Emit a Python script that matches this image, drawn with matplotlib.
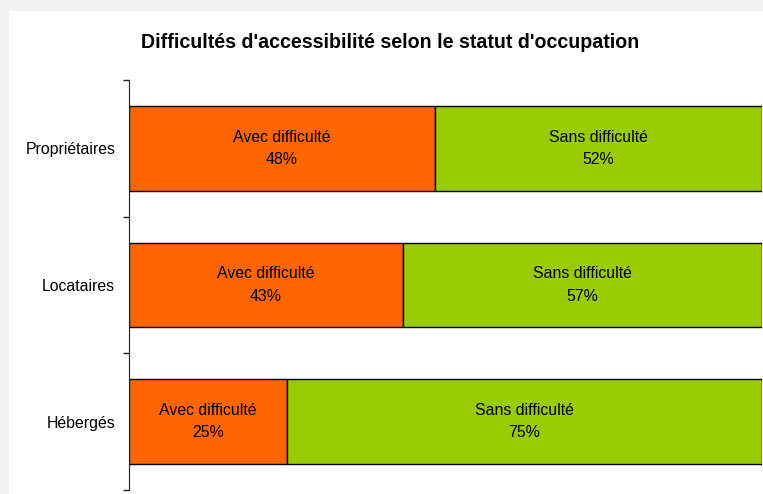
import matplotlib.pyplot as plt
import matplotlib.patches as patches
import numpy as np

plt.rcParams['font.family'] = ['Liberation Sans', 'DejaVu Sans']

# data (bar lengths, labels are the rounded values)
statuts = ['Propriétaires', 'Locataires', 'Hébergés']
avec_difficulte = [48.4, 43.4, 25.0]
sans_difficulte = [51.6, 56.6, 75.0]
orange = '#FF6600'
green = '#99CC00'

fig = plt.figure(figsize=(7.63, 4.94), dpi=100)
fig.patch.set_facecolor('#f2f2f2')
# white panel like the source page
fig.patches.append(patches.Rectangle((9 / 763, 0), 1, 1 - 11 / 494,
                                     transform=fig.transFigure,
                                     facecolor='white', edgecolor='none',
                                     zorder=-5))

ax = fig.add_axes([128.5 / 763, 4 / 494, 633.5 / 763, 410 / 494])
ax.set_facecolor('none')
ax.set_zorder(2)

y = np.arange(len(statuts))
h = 0.62
ax.barh(y, avec_difficulte, height=h, color=orange, edgecolor='black', linewidth=1)
ax.barh(y, sans_difficulte, left=avec_difficulte, height=h, color=green,
        edgecolor='black', linewidth=1)

for i in range(len(statuts)):
    a = avec_difficulte[i]
    s = sans_difficulte[i]
    ax.text(a / 2, i, 'Avec difficulté\n%.0f%%' % a, ha='center', va='center',
            fontsize=11.4, linespacing=1.6)
    ax.text(a + s / 2, i, 'Sans difficulté\n%.0f%%' % s, ha='center', va='center',
            fontsize=11.4, linespacing=1.6)

ax.set_xlim(0, 100)
ax.set_ylim(len(statuts) - 0.5, -0.5)
ax.set_xticks([])
ax.set_yticks(y)
ax.set_yticklabels(statuts, fontsize=11.4)
ax.tick_params(axis='y', which='major', length=0, pad=9.5)
ax.set_yticks(np.arange(len(statuts) + 1) - 0.5, minor=True)
ax.tick_params(axis='y', which='minor', length=4, width=1, color='#222222')

for sp in ['top', 'right', 'bottom']:
    ax.spines[sp].set_visible(False)
ax.spines['left'].set_color('#222222')

fig.text(390 / 763, 1 - 43 / 494, "Difficultés d'accessibilité selon le statut d'occupation",
         ha='center', va='center', fontsize=14.1, fontweight='bold')

plt.savefig('out.png', dpi=100, facecolor=fig.get_facecolor())
